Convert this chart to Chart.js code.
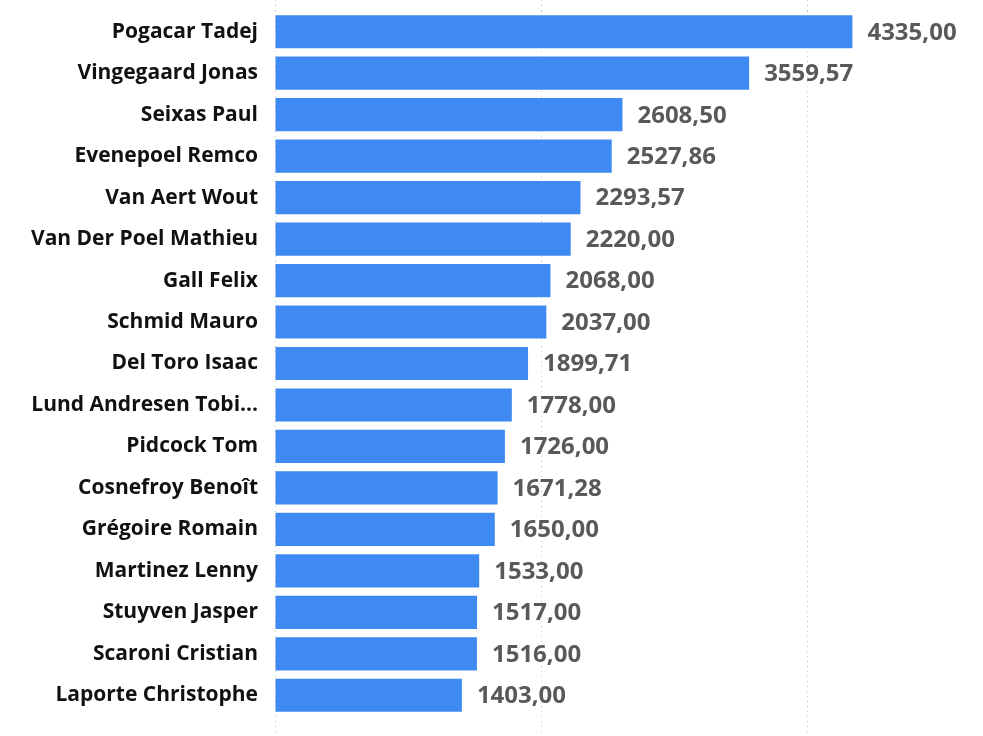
<!DOCTYPE html>
<html>
<head>
<meta charset="utf-8">
<script src="https://cdn.jsdelivr.net/npm/chart.js@4"></script>
<style>
  html, body { margin: 0; padding: 0; background: #fff; }
  #wrap { width: 983px; height: 736px; }
</style>
</head>
<body>
<div id="wrap"><canvas id="grafico"></canvas></div>
<script>
// riders and points
var riders = ["Pogacar Tadej", "Vingegaard Jonas", "Seixas Paul", "Evenepoel Remco", "Van Aert Wout",
  "Van Der Poel Mathieu", "Gall Felix", "Schmid Mauro", "Del Toro Isaac", "Lund Andresen Tobi...",
  "Pidcock Tom", "Cosnefroy Benoît", "Grégoire Romain", "Martinez Lenny", "Stuyven Jasper",
  "Scaroni Cristian", "Laporte Christophe"];
var points = [4335.00, 3559.57, 2608.50, 2527.86, 2293.57, 2220.00, 2068.00, 2037.00, 1899.71, 1778.00,
  1726.00, 1671.28, 1650.00, 1533.00, 1517.00, 1516.00, 1403.00];
var gridValues = [0, 2000, 4000];

var fontName = "'Open Sans', 'Noto Sans', sans-serif";

function fmt(v) {
    return v.toFixed(2).replace('.', ',');
}

// value labels at the end of every bar
var valueLabels = {
    id: 'valueLabels',
    afterDatasetsDraw: function(chart) {
        var ctx = chart.ctx;
        var meta = chart.getDatasetMeta(0);
        ctx.save();
        ctx.font = "bold 24px " + fontName;
        ctx.fillStyle = "#595959";
        ctx.textAlign = "left";
        ctx.textBaseline = "middle";
        meta.data.forEach(function(bar, i) {
            ctx.fillText(fmt(points[i]), bar.x + 15, bar.y + 1);
        });
        ctx.restore();
    }
};

function gridTicks(scale) {
    scale.ticks = gridValues.map(function(v) { return { value: v }; });
}

var dottedBorder = { display: false, dash: [1, 4] };

var graph = new Chart(document.getElementById("grafico"), {
    type: "bar",
    data: {
        labels: riders,
        datasets: [{
            data: points,
            backgroundColor: "#3f8af2",
            barPercentage: 0.8,
            categoryPercentage: 1.0
        }]
    },
    options: {
        indexAxis: 'y',
        responsive: true,
        maintainAspectRatio: false,
        animation: false,
        layout: { padding: { left: 0, right: 42, top: 0, bottom: 0 } },
        plugins: {
            legend: { display: false },
            tooltip: { enabled: false }
        },
        scales: {
            x: {
                position: 'bottom',
                min: 0,
                max: 5000,
                afterBuildTicks: gridTicks,
                ticks: { display: false },
                border: dottedBorder,
                grid: {
                    color: "#c6c6c6", tickColor: "#c6c6c6",
                    tickBorderDash: [1, 4], drawTicks: true, tickLength: 20
                }
            },
            x2: {
                position: 'top',
                axis: 'x',
                min: 0,
                max: 5000,
                afterBuildTicks: gridTicks,
                ticks: { display: false },
                border: dottedBorder,
                grid: {
                    color: "#c6c6c6", tickColor: "#c6c6c6", drawOnChartArea: false,
                    tickBorderDash: [1, 4], drawTicks: true, tickLength: 11
                }
            },
            y: {
                afterFit: function(scale) { scale.width = 275; },
                border: { display: false },
                grid: {
                    display: true, drawOnChartArea: false, drawTicks: true,
                    tickLength: 17, tickColor: "rgba(0,0,0,0)"
                },
                ticks: {
                    padding: 0,
                    color: "#111111",
                    font: { family: fontName, size: 21, weight: "bold", lineHeight: 1 }
                }
            }
        }
    },
    plugins: [valueLabels]
});
</script>
</body>
</html>
